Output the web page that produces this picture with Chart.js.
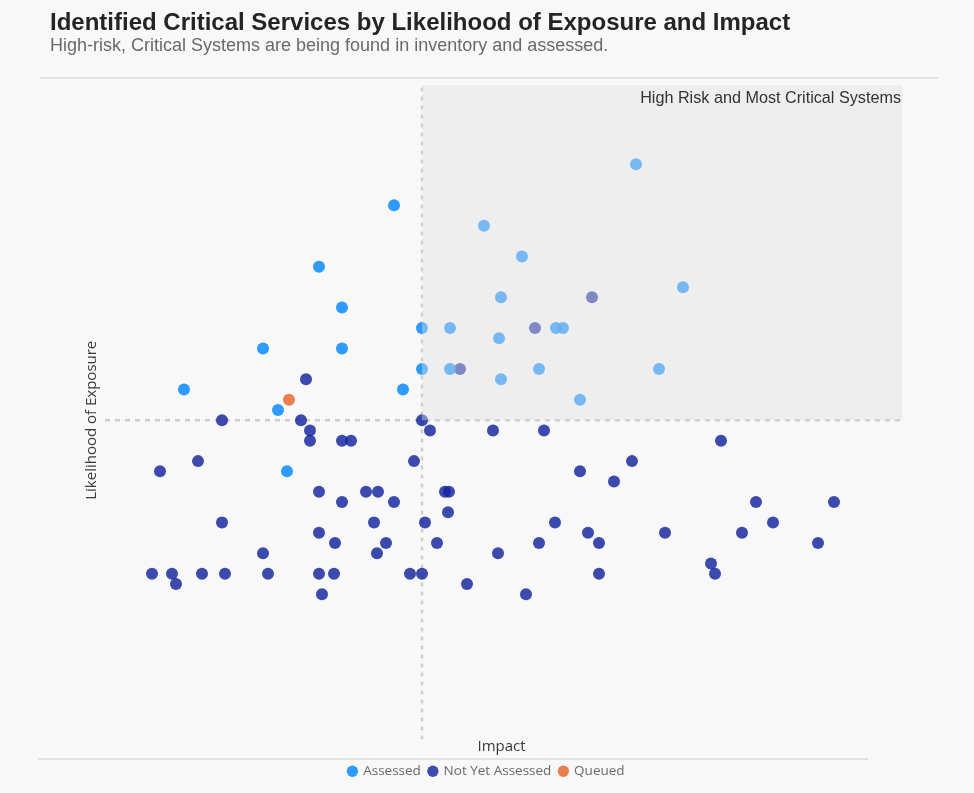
<!DOCTYPE html>
<html>
<head>
<meta charset="utf-8">
<title>Identified Critical Services</title>
<script src="https://cdn.jsdelivr.net/npm/chart.js@4.4.1/dist/chart.umd.min.js"></script>
<style>
  html, body { margin: 0; padding: 0; background: #f8f8f8; }
  body { width: 974px; height: 793px; position: relative; overflow: hidden; }
  #title { position: absolute; left: 50px; top: 10px; font: bold 24px/24px "Liberation Sans", Arial, sans-serif; color: #252423; white-space: nowrap; z-index: 2; }
  #subtitle { position: absolute; left: 50px; top: 36px; font: 18px/18px "Liberation Sans", Arial, sans-serif; color: #6b6966; white-space: nowrap; z-index: 2; }
  .rule { position: absolute; height: 2px; background: #e2e2e2; z-index: 2; }
  #chart { position: absolute; left: 0; top: 0; z-index: 1; }
</style>
</head>
<body>
<div id="title">Identified Critical Services by Likelihood of Exposure and Impact</div>
<div id="subtitle">High-risk, Critical Systems are being found in inventory and assessed.</div>
<div class="rule" style="left:40px; top:77px; width:898px;"></div>
<div class="rule" style="left:38px; top:758px; width:830px;"></div>
<canvas id="chart" width="974" height="793"></canvas>
<script>
// Impact (x) and Likelihood of Exposure (y) per service, grouped by assessment status
const assessedImpact = [47.2, 39.7, 42.0, 50.0, 34.1, 42.0, 50.0, 26.2, 48.1, 35.6, 36.5,
  71.4, 56.2, 60.0, 76.1, 57.9, 52.8, 63.4, 64.1, 57.7, 52.8, 61.7, 73.7, 57.9, 65.8];
const assessedLikelihood = [71, 65, 61, 59, 57, 57, 55, 53, 53, 51, 45,
  75, 69, 66, 63, 62, 59, 59, 59, 58, 55, 55, 55, 54, 52];

const notAssessedImpact = [67.0, 61.3, 53.8, 38.4,
  30.0, 37.9, 50.0, 38.8, 50.8, 57.1, 62.2, 38.8, 42.0, 42.9, 79.9,
  27.6, 49.2, 71.0, 23.8, 65.8, 69.2, 39.7, 44.4, 45.6, 52.3, 52.7,
  42.0, 47.2, 83.4, 91.2, 52.6, 30.0, 45.2, 50.3, 63.3, 85.1,
  39.7, 66.6, 74.3, 82.0, 41.3, 46.4, 51.5, 61.7, 67.7, 89.6,
  34.1, 45.5, 57.6, 78.9, 23.0, 25.0, 28.0, 30.3, 34.6, 39.7, 41.2, 48.8, 50.0, 67.7, 79.3,
  25.4, 54.5, 40.0, 60.4];
const notAssessedLikelihood = [62, 59, 55, 54,
  50, 50, 50, 49, 49, 49, 49, 48, 48, 48, 48,
  46, 46, 46, 45, 45, 44, 43, 43, 43, 43, 43,
  42, 42, 42, 42, 41, 40, 40, 40, 40, 40,
  39, 39, 39, 39, 38, 38, 38, 38, 38, 38,
  37, 37, 37, 36, 35, 35, 35, 35, 35, 35, 35, 35, 35, 35, 35,
  34, 34, 33, 33];

const queuedImpact = [36.7];
const queuedLikelihood = [52];

// Reference lines and the high-risk quadrant
const impactLine = 50;
const likelihoodLine = 50;
const impactRange = [18.3, 98.0];
const likelihoodRange = [18.8, 82.75];
const quadrantLabel = 'High Risk and Most Critical Systems';
const xTitle = 'Impact';
const yTitle = 'Likelihood of Exposure';

const seriesNames = ['Assessed', 'Not Yet Assessed', 'Queued'];
const seriesColors = ['rgba(17,141,255,0.88)', 'rgba(18,35,158,0.82)', 'rgba(230,108,55,0.88)'];

const toPoints = (xs, ys) => xs.map((x, i) => ({ x, y: ys[i] }));
const axisFont = '15px "Open Sans", "Noto Sans", sans-serif';

// Shaded high-risk quadrant, laid over the points, with its caption
const quadrantPlugin = {
  id: 'quadrant',
  afterDatasetsDraw(chart) {
    const { ctx, chartArea, scales } = chart;
    const left = scales.x.getPixelForValue(impactLine);
    const bottom = scales.y.getPixelForValue(likelihoodLine);
    ctx.save();
    ctx.fillStyle = 'rgba(224,224,224,0.42)';
    ctx.fillRect(left, chartArea.top, chartArea.right - left, bottom - chartArea.top);
    ctx.fillStyle = '#333333';
    ctx.font = '16.2px "Liberation Sans", Arial, sans-serif';
    ctx.textAlign = 'right';
    ctx.textBaseline = 'alphabetic';
    ctx.fillText(quadrantLabel, chartArea.right - 1, chartArea.top + 18);
    ctx.restore();
  }
};

// Axis captions set just outside the plot
const axisTitlePlugin = {
  id: 'axisTitles',
  afterDraw(chart) {
    const { ctx, chartArea } = chart;
    ctx.save();
    ctx.fillStyle = '#3b3a39';
    ctx.font = axisFont;
    ctx.textAlign = 'center';
    ctx.textBaseline = 'middle';
    ctx.fillText(xTitle, (chartArea.left + chartArea.right) / 2 - 2, chartArea.bottom + 7);
    ctx.translate(chartArea.left - 13, (chartArea.top + chartArea.bottom) / 2 + 8);
    ctx.rotate(-Math.PI / 2);
    ctx.fillText(yTitle, 0, 0);
    ctx.restore();
  }
};

const dashStyle = { borderColor: '#cdcdcd', borderWidth: 2.5, pointRadius: 0, showLine: true, fill: false, order: 10 };
const markerRadius = 6;

new Chart(document.getElementById('chart'), {
  type: 'scatter',
  data: {
    datasets: [
      { label: seriesNames[0], data: toPoints(assessedImpact, assessedLikelihood), backgroundColor: seriesColors[0], borderColor: seriesColors[0], pointRadius: markerRadius, borderWidth: 0, order: 1 },
      { label: seriesNames[1], data: toPoints(notAssessedImpact, notAssessedLikelihood), backgroundColor: seriesColors[1], borderColor: seriesColors[1], pointRadius: markerRadius, borderWidth: 0, order: 2 },
      { label: seriesNames[2], data: toPoints(queuedImpact, queuedLikelihood), backgroundColor: seriesColors[2], borderColor: seriesColors[2], pointRadius: markerRadius, borderWidth: 0, order: 0 },
      Object.assign({ label: 'impactLine', data: [{ x: impactLine, y: likelihoodRange[0] }, { x: impactLine, y: likelihoodRange[1] }], borderDash: [4, 5] }, dashStyle),
      Object.assign({ label: 'likelihoodLine', data: [{ x: impactRange[0], y: likelihoodLine }, { x: impactRange[1], y: likelihoodLine }], borderDash: [5, 5] }, dashStyle)
    ]
  },
  options: {
    responsive: false,
    animation: false,
    devicePixelRatio: 1,
    layout: { padding: { left: 71, right: 72, top: 85, bottom: 5 } },
    scales: {
      x: {
        type: 'linear', min: impactRange[0], max: impactRange[1],
        grid: { display: false }, border: { display: false },
        ticks: { display: false },
        afterFit: scale => { scale.height = 17; }
      },
      y: {
        type: 'linear', min: likelihoodRange[0], max: likelihoodRange[1],
        grid: { display: false }, border: { display: false },
        ticks: { display: false },
        afterFit: scale => { scale.width = 34; }
      }
    },
    plugins: {
      legend: {
        position: 'bottom',
        labels: {
          usePointStyle: true, pointStyle: 'circle', boxWidth: 8, boxHeight: 8, padding: 8,
          color: '#6b6966', font: { family: '"Open Sans", "Noto Sans", sans-serif', size: 13.5 },
          filter: item => seriesNames.includes(item.text),
          sort: (a, b) => a.datasetIndex - b.datasetIndex
        }
      },
      tooltip: { enabled: false }
    }
  },
  plugins: [quadrantPlugin, axisTitlePlugin]
});
</script>
</body>
</html>
